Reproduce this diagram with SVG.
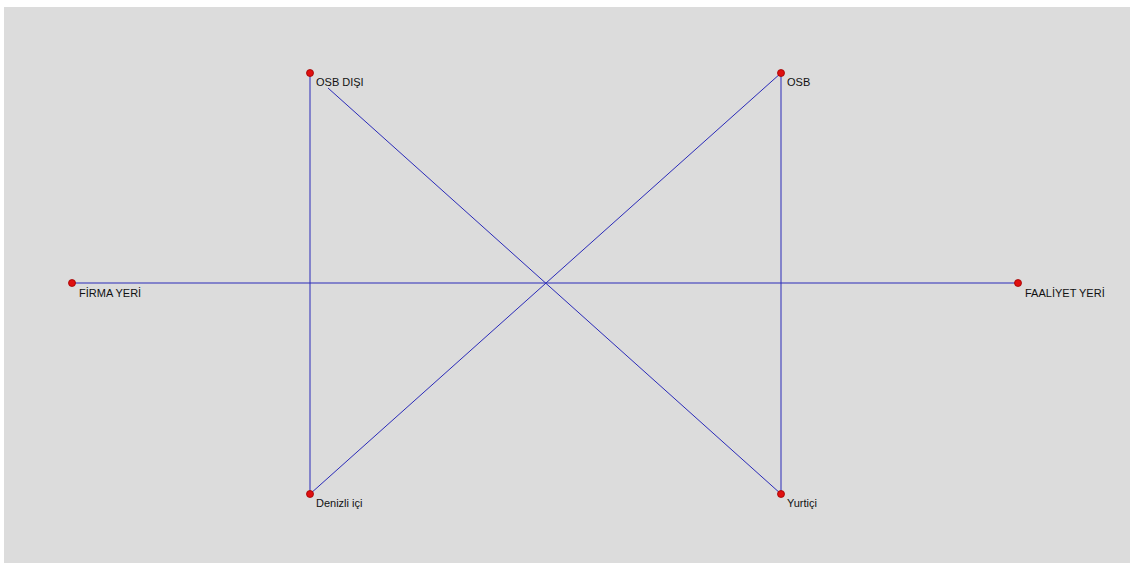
<svg xmlns="http://www.w3.org/2000/svg" width="1134" height="565" viewBox="0 0 1134 565">
<style>
.e{stroke:#2a2ab8;stroke-width:1;fill:none}
.d{fill:#e01010;stroke:#a00000;stroke-width:0.8}
.t{font-family:"Liberation Sans",Arial,sans-serif;font-size:11px;fill:#111}
</style>
<rect width="1134" height="565" fill="#ffffff"/>
<rect x="4" y="7" width="1126" height="556" fill="#dcdcdc"/>
<g id="connectors">
<line class="e" x1="310" y1="73" x2="310" y2="494"/>
<line class="e" x1="781" y1="73" x2="781" y2="494"/>
<line class="e" x1="72" y1="283" x2="1018" y2="283"/>
<line class="e" x1="328" y1="88" x2="781" y2="494"/>
<line class="e" x1="781" y1="73" x2="310" y2="494"/>
</g>
<g id="osb-disi"><circle class="d" cx="310" cy="73" r="3.5"/><text class="t" x="316" y="86">OSB DIŞI</text></g>
<g id="osb"><circle class="d" cx="781" cy="73" r="3.5"/><text class="t" x="787" y="86">OSB</text></g>
<g id="firma-yeri"><circle class="d" cx="72" cy="283" r="3.5"/><text class="t" x="79" y="297">FİRMA YERİ</text></g>
<g id="faaliyet-yeri"><circle class="d" cx="1018" cy="283" r="3.5"/><text class="t" x="1025" y="297">FAALİYET YERİ</text></g>
<g id="denizli-ici"><circle class="d" cx="310" cy="494" r="3.5"/><text class="t" x="316" y="507">Denizli içi</text></g>
<g id="yurtici"><circle class="d" cx="781" cy="494" r="3.5"/><text class="t" x="787" y="507">Yurtiçi</text></g>
</svg>
